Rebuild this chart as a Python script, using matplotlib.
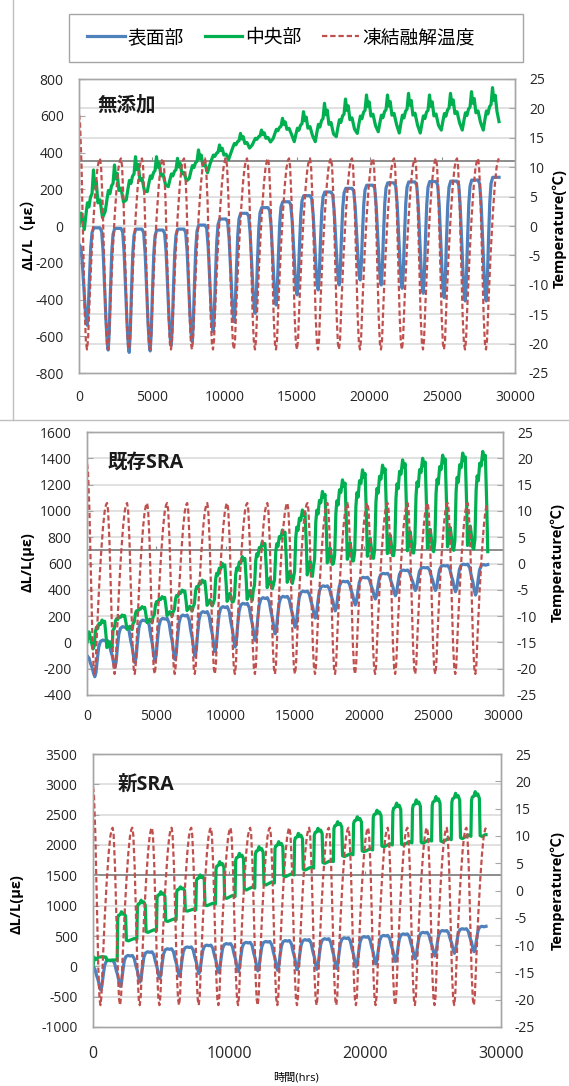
import numpy as np
import matplotlib as mpl
mpl.use('Agg')
import matplotlib.pyplot as plt
from matplotlib.lines import Line2D
from matplotlib.patches import Rectangle

plt.rcParams['font.family'] = ['Open Sans', 'Noto Sans CJK JP', 'DejaVu Sans']
plt.rcParams['axes.unicode_minus'] = False

W, H = 569, 1086

BLUE = '#4F81BD'
GREEN = '#00B050'
RED = '#C0504D'
GRID = '#D9D9D9'
EDGE = '#A6A6A6'

# start of each freeze-thaw cycle (hrs) = temperature peaks
cycle_start = [0, 1445, 2890, 4335, 5780, 7225, 8670, 10115, 11560, 13005, 14450,
               15895, 17340, 18785, 20230, 21675, 23120, 24565, 26010, 27455, 28900]

# 凍結融解温度 (degC, right axis) - same schedule in all three specimens
temp_peak = [19.0] + [11.5] * 20
temp_trough = [-21.0] * 20

# 無添加 (ΔL/L, με)
blue_top_1 = [-100, -10, -13, -17, -22, -17, 5, 38, 69, 100, 132, 165, 185, 205, 222,
              235, 240, 242, 244, 250, 265]
blue_bot_1 = [-540, -675, -688, -680, -648, -630, -575, -521, -475, -430, -375, -348,
              -321, -294, -321, -339, -366, -390, -408, -408]
green_top_1 = [305, 332, 377, 377, 368, 414, 441, 504, 522, 586, 622, 668, 691, 713, 713,
               722, 713, 722, 731, 753]
green_bot_1 = [-20, 80, 142, 187, 214, 259, 341, 404, 441, 477, 459, 459, 486, 504, 513,
               506, 506, 522, 522, 522]
green_lead_1 = [(0, 0), (150, 70)]
green_end_1 = 568

# 既存SRA
blue_top_2 = [-100, 18, 120, 170, 183, 208, 234, 272, 297, 340, 350, 390, 430, 465, 495,
              525, 550, 570, 585, 595, 592]
blue_bot_2 = [-261, -190, -155, -140, -130, -105, -70, -35, 15, 65, 115, 185, 240, 285,
              330, 355, 395, 395, 385, 360]
green_top_2 = [170, 208, 272, 348, 398, 474, 601, 652, 766, 855, 1007, 1148, 1236, 1312,
               1348, 1388, 1400, 1424, 1440, 1452]
green_bot_2 = [-50, 94, 145, 196, 234, 272, 297, 310, 398, 436, 487, 576, 600, 620, 640,
               660, 680, 690, 700, 710]
green_lead_2 = [(0, 0), (150, 80)]
green_end_2 = 690

# 新SRA
blue_top_3 = [0, 100, 180, 240, 290, 320, 350, 375, 395, 410, 425, 440, 455, 470, 490,
              510, 535, 560, 590, 620, 660]
blue_bot_3 = [-390, -330, -260, -200, -160, -120, -100, -85, -75, -65, -55, -50, -35, -10,
              40, 80, 125, 170, 215, 242]
green_top_3 = [160, 900, 1090, 1230, 1310, 1506, 1725, 1862, 1972, 2055, 2192, 2275, 2384,
               2465, 2573, 2690, 2744, 2798, 2852, 2879]
green_bot_3 = [100, 420, 560, 740, 910, 1000, 1120, 1258, 1341, 1478, 1588, 1698, 1810,
               1890, 1970, 2000, 2030, 2050, 2105, 2140]
green_lead_3 = [(0, 0), (80, 150), (200, 110)]
green_end_3 = 2170

# level of the dark grey secondary-axis line in each panel (left axis units)
axis_line = [354, 703, 1505]

# one-cycle outlines: (phase, fraction between low and high, which high)
red_shape = [(0.00, 1.00, 0), (0.05, 0.96, 0), (0.12, 0.78, 0), (0.20, 0.45, 0),
             (0.27, 0.17, 0), (0.33, 0.03, 0), (0.38, 0.00, 0), (0.43, 0.05, 1),
             (0.50, 0.25, 1), (0.60, 0.50, 1), (0.70, 0.70, 1), (0.80, 0.86, 1),
             (0.88, 0.95, 1), (0.95, 0.99, 1)]
blue_shape_a = [(0.00, 1.00, 0), (0.08, 0.97, 0), (0.15, 0.80, 0), (0.22, 0.50, 0),
                (0.29, 0.22, 0), (0.35, 0.05, 0), (0.39, 0.00, 0), (0.44, 0.15, 1),
                (0.50, 0.50, 1), (0.56, 0.80, 1), (0.62, 0.95, 1), (0.70, 1.00, 1),
                (0.85, 1.00, 1), (0.95, 1.00, 1)]
blue_shape_b = [(0.00, 1.00, 0), (0.10, 0.88, 0), (0.18, 0.62, 0), (0.26, 0.42, 0),
                (0.33, 0.15, 0), (0.39, 0.00, 0), (0.45, 0.12, 1), (0.52, 0.50, 1),
                (0.59, 0.82, 1), (0.67, 0.96, 1), (0.78, 1.00, 1), (0.90, 0.98, 1)]
green_shape_1 = [(0.25, 0.00, 0), (0.33, 0.25, 0), (0.40, 0.45, 0), (0.47, 0.38, 0),
                 (0.55, 0.55, 0), (0.62, 0.60, 0), (0.69, 1.00, 0), (0.75, 0.70, 0),
                 (0.82, 0.82, 0), (0.90, 0.45, 0), (1.00, 0.50, 0), (1.12, 0.20, 0)]
green_shape_2 = [(0.30, 0.00, 0), (0.36, 0.10, 0), (0.42, 0.60, 0), (0.47, 0.75, 0),
                 (0.53, 0.70, 0), (0.60, 0.88, 0), (0.67, 0.85, 0), (0.75, 1.00, 0),
                 (0.82, 0.92, 0), (0.88, 0.96, 0), (0.95, 0.45, 0), (0.99, 0.05, 0),
                 (1.06, 0.12, 0), (1.13, 0.25, 0), (1.19, 0.15, 0), (1.25, 0.03, 0)]
green_shape_3 = [(0.26, 0.80, 0), (0.30, 0.88, 0), (0.38, 0.90, 0), (0.45, 1.00, 0),
                 (0.50, 0.92, 0), (0.58, 0.95, 0), (0.66, 0.85, 0), (0.70, 0.02, 0),
                 (0.80, 0.00, 0), (0.95, 0.04, 0), (1.10, 0.08, 0), (1.23, 0.05, 0)]


def cycles(shape, tops, bots, lead=(), end_val=None):
    xs = [p[0] for p in lead]
    ys = [p[1] for p in lead]
    end = cycle_start[-1]
    for k in range(len(bots)):
        t0 = cycle_start[k]
        span = cycle_start[k + 1] - t0
        for ph, f, side in shape:
            t = t0 + ph * span
            if t >= end:
                continue
            top = tops[k + side]
            xs.append(t)
            ys.append(bots[k] + f * (top - bots[k]))
    xs.append(end)
    ys.append(tops[-1] if end_val is None else end_val)
    return xs, ys


def fx(px):
    return px / W


def fy(py):
    return 1 - py / H


fig = plt.figure(figsize=(W / 100, H / 100), dpi=100)

panels = [
    dict(box=(79, 79, 515, 373), title='無添加', title_xy=(98, 106),
         ylabel='ΔL/L（με）', ylab_xy=(28, 230), tlab_xy=(560, 228),
         ylim=(-800, 800), ystep=200, xstep=5000, grid='temp',
         blue=(blue_shape_a, blue_top_1, blue_bot_1),
         green=(green_shape_1, green_top_1, green_bot_1, green_lead_1, green_end_1),
         xpad=12, xsize=10),
    dict(box=(87, 432, 503, 695), title='既存SRA', title_xy=(108, 463),
         ylabel='ΔL/L(με)', ylab_xy=(28, 562), tlab_xy=(558, 563),
         ylim=(-400, 1600), ystep=200, xstep=5000, grid='left',
         blue=(blue_shape_b, blue_top_2, blue_bot_2),
         green=(green_shape_2, green_top_2, green_bot_2, green_lead_2, green_end_2),
         xpad=10, xsize=10),
    dict(box=(93, 754, 501, 1027), title='新SRA', title_xy=(118, 785),
         ylabel='ΔL/L(με)', ylab_xy=(17, 904), tlab_xy=(558, 890),
         ylim=(-1000, 3500), ystep=500, xstep=10000, grid='left',
         blue=(blue_shape_b, blue_top_3, blue_bot_3),
         green=(green_shape_3, green_top_3, green_bot_3, green_lead_3, green_end_3),
         xpad=14, xsize=11.5),
]

temp_ticks = np.arange(-25, 26, 5)
red_dash = (0, (2.4, 1.3))

for i, p in enumerate(panels):
    x0, y0, x1, y1 = p['box']
    ax = fig.add_axes([fx(x0), fy(y1), fx(x1 - x0), (y1 - y0) / H])
    ax2 = ax.twinx()
    lo, hi = p['ylim']
    ax.set_xlim(0, 30000)
    ax.set_ylim(lo, hi)
    ax2.set_ylim(-25, 25)
    ax.set_yticks(np.arange(lo, hi + 1, p['ystep']))
    ax2.set_yticks(temp_ticks)
    xt = np.arange(0, 30001, p['xstep'])
    ax.set_xticks(xt)

    # horizontal gridlines
    if p['grid'] == 'temp':
        levels = np.interp(temp_ticks[1:-1], [-25, 25], [lo, hi])
    else:
        levels = np.arange(lo, hi + 1, p['ystep'])[1:-1]
    for lv in levels:
        ax.axhline(lv, color=GRID, lw=1.1, zorder=0)
    ax.axhline(axis_line[i], color='#8C8C8C', lw=1.4, zorder=1)
    ax.plot(xt[1:-1], [axis_line[i]] * (len(xt) - 2), ls='none', marker=2, ms=3,
            mew=0.8, color='#8C8C8C', zorder=1)

    bs, bt, bb = p['blue']
    x, y = cycles(bs, bt, bb)
    ax.plot(x, y, color=BLUE, lw=2.3, zorder=3, solid_joinstyle='round')
    gs, gt, gb, glead, gend = p['green']
    x, y = cycles(gs, gt, gb, glead, gend)
    ax.plot(x, y, color=GREEN, lw=2.3, zorder=4, solid_joinstyle='round')
    x, y = cycles(red_shape, temp_peak, temp_trough)
    ax2.plot(x, y, color=RED, lw=1.6, ls=red_dash)

    for a in (ax, ax2):
        for s in a.spines.values():
            s.set_color(EDGE)
            s.set_linewidth(1.0)
    ax.tick_params(axis='y', direction='in', length=4, color=EDGE, labelsize=10,
                   pad=11, labelcolor='#262626')
    ax2.tick_params(axis='y', direction='in', length=4, color=EDGE, labelsize=10,
                    pad=10, labelcolor='#262626')
    ax.tick_params(axis='x', length=0, labelsize=p['xsize'], pad=p['xpad'],
                   labelcolor='#262626')

    tx, ty = p['title_xy']
    fig.text(fx(tx), fy(ty), p['title'], fontsize=14, fontweight='bold',
             ha='left', va='center', color='#1A1A1A')
    lx, ly = p['ylab_xy']
    fig.text(fx(lx), fy(ly), p['ylabel'], rotation=90, fontsize=10.5,
             fontweight='bold', ha='center', va='center')
    rx, ry = p['tlab_xy']
    fig.text(fx(rx), fy(ry), 'Temperature(℃)', rotation=90, fontsize=10.5,
             fontweight='bold', ha='center', va='center')

fig.text(fx(296), fy(1078), '時間(hrs)', fontsize=8, ha='center', va='center')

# legend with its own frame
handles = [Line2D([], [], color=BLUE, lw=2.3),
           Line2D([], [], color=GREEN, lw=2.3),
           Line2D([], [], color=RED, lw=1.6, ls=red_dash)]
fig.legend(handles, ['表面部', '中央部', '凍結融解温度'], loc='center',
           bbox_to_anchor=(fx(281), fy(38)), ncol=3, frameon=False, fontsize=13.5,
           handlelength=2.0, handletextpad=0.15, columnspacing=1.1)
fig.add_artist(Rectangle((fx(69), fy(62)), fx(523 - 69), (62 - 14) / H,
                         transform=fig.transFigure, fill=False, edgecolor=EDGE, lw=1.0))

# border around the first chart
fig.add_artist(Line2D([fx(13), fx(13)], [1, fy(420)], transform=fig.transFigure,
                      color='#BFBFBF', lw=1.0))
fig.add_artist(Line2D([0, 1], [fy(420), fy(420)], transform=fig.transFigure,
                      color='#BFBFBF', lw=1.0))

fig.savefig('out.png', dpi=100)
